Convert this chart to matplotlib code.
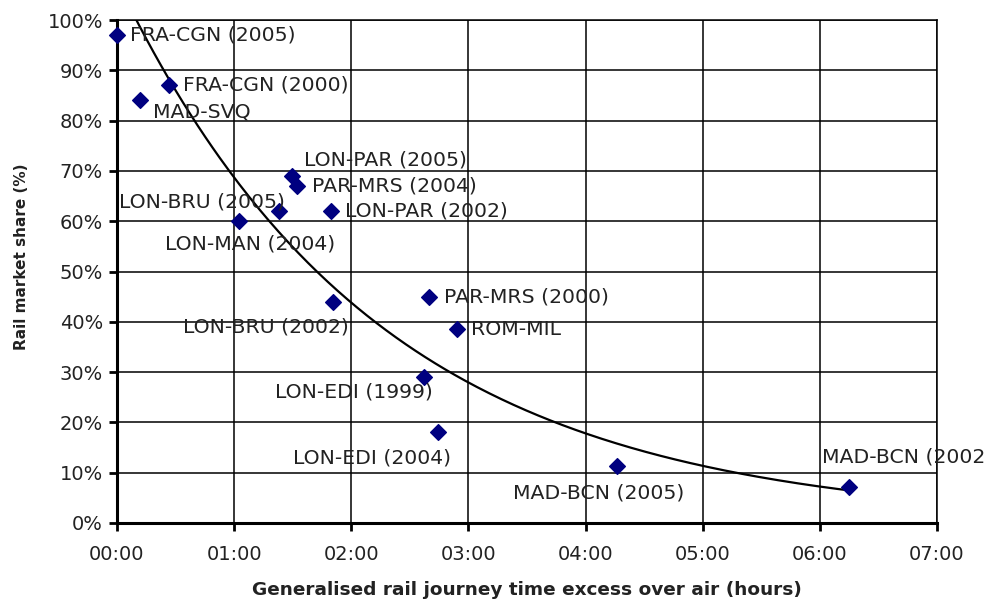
import numpy as np
import matplotlib
matplotlib.use("Agg")
import matplotlib.pyplot as plt
from matplotlib.ticker import FuncFormatter, MultipleLocator

# rail journey time excess over air (hours) and rail market share (%)
routes = ["FRA-CGN (2005)", "FRA-CGN (2000)", "MAD-SVQ", "LON-PAR (2005)",
          "PAR-MRS (2004)", "LON-BRU (2005)", "LON-PAR (2002)", "LON-MAN (2004)",
          "LON-BRU (2002)", "PAR-MRS (2000)", "ROM-MIL", "LON-EDI (1999)",
          "LON-EDI (2004)", "MAD-BCN (2005)", "MAD-BCN (2002)"]
hours = [0.0, 0.44, 0.2, 1.49, 1.54, 1.38, 1.83, 1.04,
         1.84, 2.66, 2.9, 2.62, 2.74, 4.27, 6.25]
share = [97, 87, 84, 69, 67, 62, 62, 60,
         44, 45, 38.5, 29, 18, 11.3, 7.2]

# label placement (offset in pixels, horizontal alignment)
label_pos = [(13, 0, "left"), (14, 0, "left"), (13, -12, "left"), (12, 16, "left"),
             (15, 0, "left"), (6, 9, "right"), (14, 0, "left"), (11, -23, "center"),
             (16, -25, "right"), (15, 0, "left"), (14, 0, "left"), (9, -15, "right"),
             (13, -26, "right"), (67, -27, "right"), (-27, 30, "left")]

x = np.array(hours)
y = np.array(share)

# exponential trendline, least squares on log(y) like Excel
b, ln_a = np.polyfit(x, np.log(y), 1)
xf = np.linspace(0, x.max(), 300)
yf = np.exp(ln_a) * np.exp(b * xf)

plt.rcParams["font.family"] = ["DejaVu Sans"]

fig = plt.figure(figsize=(9.87, 6.03), dpi=100)
ax = fig.add_axes([117 / 987, 1 - 523 / 603, 820 / 987, 503 / 603])

ax.plot(xf, yf, color="black", lw=1.6, zorder=3)
ax.scatter(x, y, marker="D", s=64, color="#000080", zorder=4, clip_on=False)

for name, xi, yi, (dx, dy, ha) in zip(routes, x, y, label_pos):
    ax.annotate(name, (xi, yi), xytext=(dx, dy), textcoords="offset pixels",
                ha=ha, va="center", fontsize=14.7, color="#222222",
                annotation_clip=False, zorder=5)

ax.set_xlim(0, 7)
ax.set_ylim(0, 100)
ax.xaxis.set_major_locator(MultipleLocator(1))
ax.yaxis.set_major_locator(MultipleLocator(10))
ax.xaxis.set_major_formatter(FuncFormatter(lambda v, p: "%02d:00" % int(round(v))))
ax.yaxis.set_major_formatter(FuncFormatter(lambda v, p: "%d%%" % int(round(v))))

ax.grid(True, color="black", lw=1.1)
ax.set_axisbelow(True)
for s in ["top", "right"]:
    ax.spines[s].set_linewidth(1.1)
for s in ["left", "bottom"]:
    ax.spines[s].set_linewidth(2.2)
ax.tick_params(direction="out", length=6, width=2, labelsize=14, pad=4,
               labelcolor="#222222")
ax.tick_params(axis="x", pad=10)

ax.set_xlabel("Generalised rail journey time excess over air (hours)",
              fontsize=13.3, fontweight="bold", labelpad=12, color="#222222")
ax.set_ylabel("Rail market share (%)", fontsize=11, fontweight="bold",
              color="#222222")
ax.yaxis.set_label_coords(-88 / 820, 0.53)

fig.savefig("out.png", dpi=100)
